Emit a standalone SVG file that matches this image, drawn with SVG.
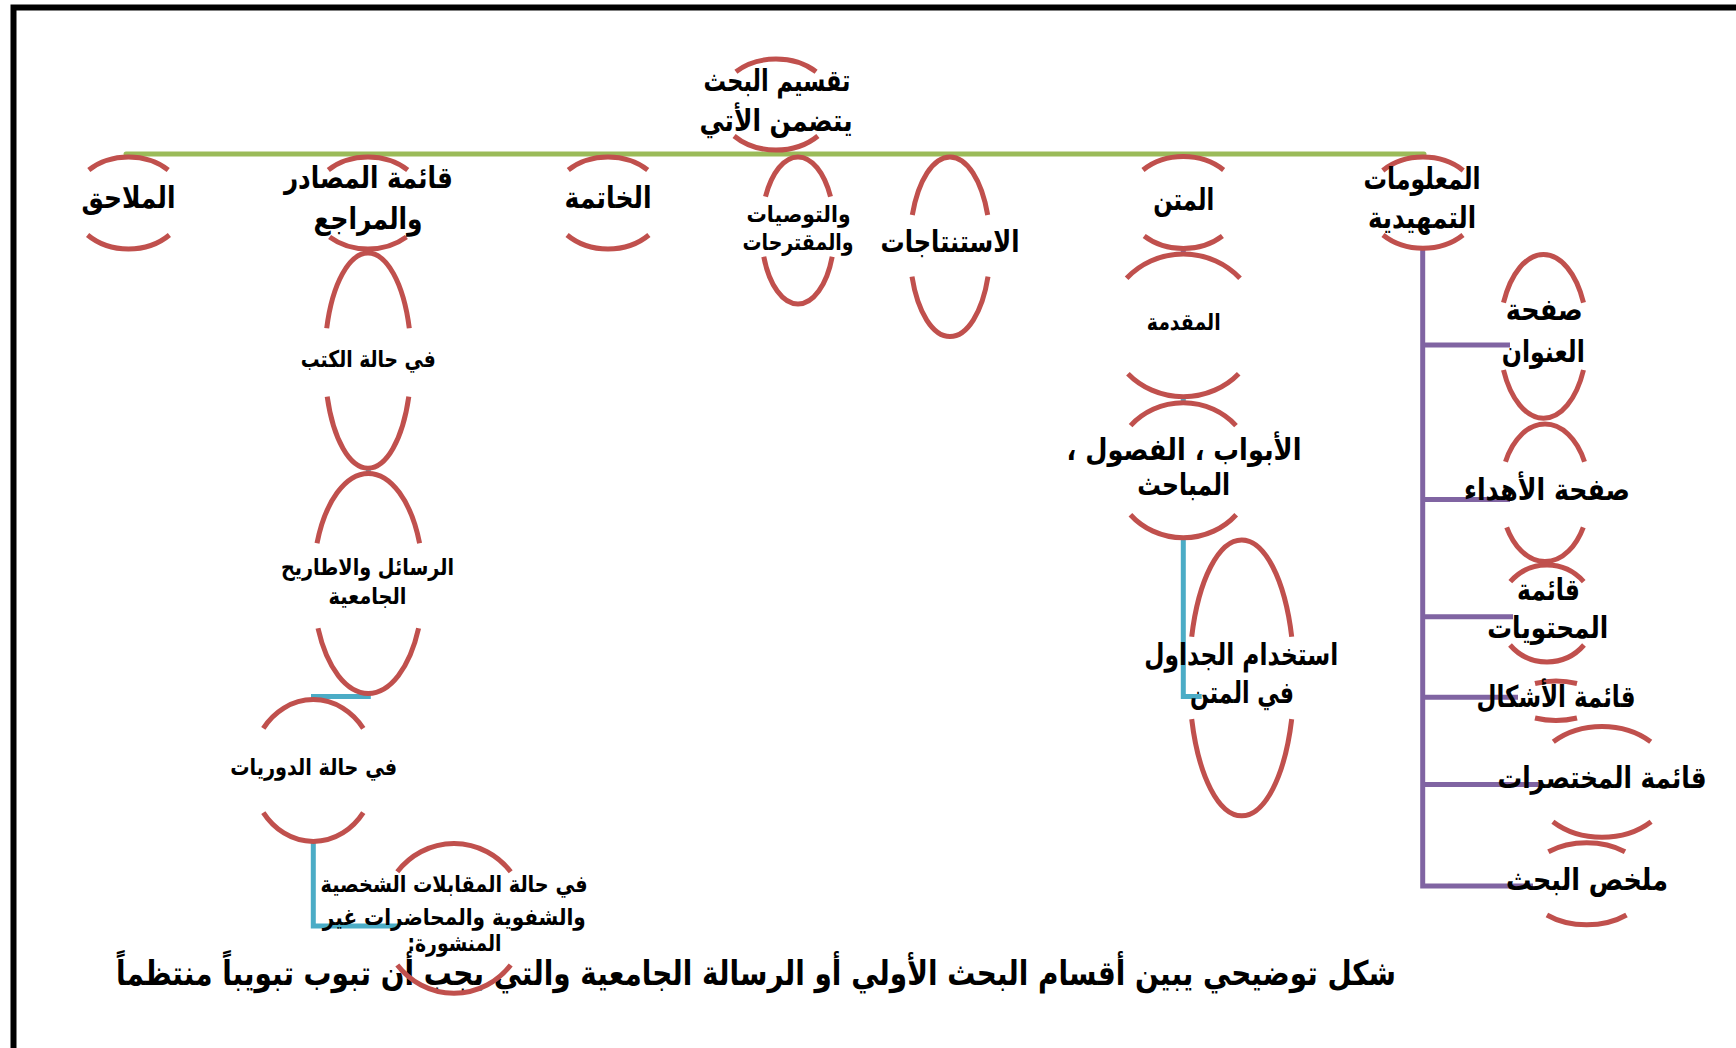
<svg xmlns="http://www.w3.org/2000/svg" width="1736" height="1048" viewBox="0 0 1736 1048">
<style>
.bg{fill:#ffffff}
.frame{fill:none;stroke:#000000;stroke-width:6}
.arc{fill:none;stroke:#C0504D;stroke-width:5}
.cg{fill:none;stroke:#9BBB59;stroke-width:5;stroke-linecap:round}
.cp{fill:none;stroke:#8064A2;stroke-width:5}
.cb{fill:none;stroke:#4BACC6;stroke-width:5}
text{font-family:"DejaVu Sans",sans-serif;font-weight:bold;fill:#000000;text-anchor:middle;direction:rtl}
.L{font-size:30px}
.S{font-size:23px}
.C{font-size:34px}
</style>
<rect class="bg" x="0" y="0" width="1736" height="1048"/>
<g id="frame">
<path class="frame" d="M13.5,1048 V7.5 H1736"/>
</g>
<g id="caption">
<text class="C" x="756" y="985" textLength="1280" lengthAdjust="spacingAndGlyphs">شكل توضيحي يبين أقسام البحث الأولي أو الرسالة الجامعية والتي يجب أن تبوب تبويباً منتظماً</text>
</g>
<g id="connectors">
<path class="cg" d="M126,154 H1424"/>
<path class="cp" d="M1422.7,249 V886 M1422.7,345 H1510 M1422.7,499.5 H1510 M1422.7,616.7 H1513 M1422.7,697.3 H1518 M1422.7,784.5 H1540 M1420.2,886 H1533"/>
<path class="cp" d="M368,248 V254 M1183.3,247 V255"/>
<path class="cb" d="M368.3,467 V474 M1183.3,396 V404"/>
<path class="cb" d="M368.3,692 V696.5 H311"/>
<path class="cb" d="M313.3,841 V926 H399"/>
<path class="cb" d="M1183.3,537 V696.4 H1201.7"/>
</g>
<g id="node-title">
<path class="arc" d="M735.9,71.7 A58,45.5 0 0 1 816.1,71.7 M734.1,136 A58,45.5 0 0 0 817.9,136"/>
<text class="L" x="777" y="90.5" textLength="147" lengthAdjust="spacingAndGlyphs">تقسيم البحث</text>
<text class="L" x="776" y="131" textLength="153" lengthAdjust="spacingAndGlyphs">يتضمن الأتي</text>
</g>
<g id="node-mulahaq">
<path class="arc" d="M88.8,170 A57,46 0 0 1 168.2,170 M87.6,235 A57,46 0 0 0 169.4,235"/>
<text class="L" x="128.5" y="208" textLength="94" lengthAdjust="spacingAndGlyphs">الملاحق</text>
</g>
<g id="node-masader">
<path class="arc" d="M328.3,170 A57,46 0 0 1 407.7,170 M329.6,237 A57,46 0 0 0 406.4,237"/>
<text class="L" x="368.4" y="188" textLength="169" lengthAdjust="spacingAndGlyphs">قائمة المصادر</text>
<text class="L" x="368" y="229" textLength="109" lengthAdjust="spacingAndGlyphs">والمراجع</text>
</g>
<g id="node-khatima">
<path class="arc" d="M568.3,170 A57,46 0 0 1 647.7,170 M567.1,235 A57,46 0 0 0 648.9,235"/>
<text class="L" x="608" y="208" textLength="87" lengthAdjust="spacingAndGlyphs">الخاتمة</text>
</g>
<g id="node-tawsiyat">
<path class="arc" d="M765.5,196.7 A36.6,73.5 0 0 1 830.5,196.7 M763.8,256.7 A36.6,73.5 0 0 0 832.2,256.7"/>
<text class="S" x="798.5" y="221.5" textLength="104" lengthAdjust="spacingAndGlyphs">والتوصيات</text>
<text class="S" x="798" y="250" textLength="111" lengthAdjust="spacingAndGlyphs">والمقترحات</text>
</g>
<g id="node-istintajat">
<path class="arc" d="M912.3,215 A40.3,89.8 0 0 1 987.7,215 M912,276.7 A40.3,89.8 0 0 0 988,276.7"/>
<text class="L" x="950" y="251.5" textLength="139" lengthAdjust="spacingAndGlyphs">الاستنتاجات</text>
</g>
<g id="node-matn">
<path class="arc" d="M1143,170 A57,46 0 0 1 1223.6,170 M1144.2,236 A57,46 0 0 0 1222.4,236"/>
<text class="L" x="1183.7" y="210" textLength="61" lengthAdjust="spacingAndGlyphs">المتن</text>
</g>
<g id="node-maalumat">
<path class="arc" d="M1382.8,170.5 A57,46 0 0 1 1463.2,170.5 M1383,235 A57,46 0 0 0 1463,235"/>
<text class="L" x="1422" y="189" textLength="117" lengthAdjust="spacingAndGlyphs">المعلومات</text>
<text class="L" x="1422" y="228" textLength="108" lengthAdjust="spacingAndGlyphs">التمهيدية</text>
</g>
<g id="node-kutub">
<path class="arc" d="M326.7,328.3 A43.3,107.5 0 0 1 409.3,328.3 M327.2,396.7 A43.3,107.5 0 0 0 408.8,396.7"/>
<text class="S" x="368.3" y="367" textLength="135" lengthAdjust="spacingAndGlyphs">في حالة الكتب</text>
</g>
<g id="node-rasail">
<path class="arc" d="M317,543.3 A55.1,110 0 0 1 419.6,543.3 M318,628.3 A55.1,110 0 0 0 418.6,628.3"/>
<text class="S" x="367.5" y="575" textLength="173" lengthAdjust="spacingAndGlyphs">الرسائل والاطاريح</text>
<text class="S" x="367.5" y="604" textLength="78" lengthAdjust="spacingAndGlyphs">الجامعية</text>
</g>
<g id="node-dawriyat">
<path class="arc" d="M263.3,728.3 A62.2,71 0 0 1 363.3,728.3 M263.3,812.7 A62.2,71 0 0 0 363.3,812.7"/>
<text class="S" x="313.7" y="775" textLength="167" lengthAdjust="spacingAndGlyphs">في حالة الدوريات</text>
</g>
<g id="node-muqabalat">
<path class="arc" d="M397.3,871.7 A72.5,75 0 0 1 510.7,871.7 M397.3,965 A72.5,75 0 0 0 510.7,965"/>
<text class="S" x="454" y="891.5" textLength="267" lengthAdjust="spacingAndGlyphs">في حالة المقابلات الشخصية</text>
<text class="S" x="454.3" y="925" textLength="263" lengthAdjust="spacingAndGlyphs">والشفوية والمحاضرات غير</text>
<text class="S" x="454.5" y="951" textLength="94" lengthAdjust="spacingAndGlyphs">المنشورة:</text>
</g>
<g id="node-muqaddima">
<path class="arc" d="M1126.6,278.3 A75.4,71.3 0 0 1 1240,278.3 M1127.9,373.7 A75.4,71.3 0 0 0 1238.7,373.7"/>
<text class="S" x="1183.7" y="330" textLength="74" lengthAdjust="spacingAndGlyphs">المقدمة</text>
</g>
<g id="node-abwab">
<path class="arc" d="M1130.6,425.6 A70.3,67.5 0 0 1 1236,425.6 M1130.4,514.7 A70.3,67.5 0 0 0 1236.2,514.7"/>
<text class="L" x="1184" y="459.5" textLength="235" lengthAdjust="spacingAndGlyphs">الأبواب  ،  الفصول ،</text>
<text class="L" x="1183.7" y="494.5" textLength="93" lengthAdjust="spacingAndGlyphs">المباحث</text>
</g>
<g id="node-jadawil">
<path class="arc" d="M1191.7,636.7 A52.4,138 0 0 1 1291.7,636.7 M1191.7,719.1 A52.4,138 0 0 0 1291.7,719.1"/>
<text class="L" x="1241.3" y="664.5" textLength="194" lengthAdjust="spacingAndGlyphs">استخدام الجداول</text>
<text class="L" x="1242" y="703" textLength="104" lengthAdjust="spacingAndGlyphs">في المتن</text>
</g>
<g id="node-unwan">
<path class="arc" d="M1503.5,302.7 A43.9,82 0 0 1 1583.5,302.7 M1503.5,370 A43.9,82 0 0 0 1583.5,370"/>
<text class="L" x="1544.3" y="320" textLength="77" lengthAdjust="spacingAndGlyphs">صفحة</text>
<text class="L" x="1543.3" y="361.5" textLength="83" lengthAdjust="spacingAndGlyphs">العنوان</text>
</g>
<g id="node-ihda">
<path class="arc" d="M1505.5,461.7 A44.3,68.8 0 0 1 1584.5,461.7 M1506.7,527.3 A44.3,68.8 0 0 0 1583.3,527.3"/>
<text class="L" x="1547" y="500" textLength="166" lengthAdjust="spacingAndGlyphs">صفحة الأهداء</text>
</g>
<g id="node-muhtawayat">
<path class="arc" d="M1510.3,581.7 A49.6,50.8 0 0 1 1583.7,581.7 M1510,645 A49.6,50.8 0 0 0 1584,645"/>
<text class="L" x="1548.5" y="600" textLength="63" lengthAdjust="spacingAndGlyphs">قائمة</text>
<text class="L" x="1547.8" y="638" textLength="121" lengthAdjust="spacingAndGlyphs">المحتويات</text>
</g>
<g id="node-ashkal">
<path class="arc" d="M1535,683.5 A45,20 0 0 1 1577,683.5 M1535,718 A45,20 0 0 0 1577,718"/>
<text class="L" x="1556" y="706.5" textLength="159" lengthAdjust="spacingAndGlyphs">قائمة الأشكال</text>
</g>
<g id="node-mukhtasarat">
<path class="arc" d="M1553.3,741.7 A70.6,55.3 0 0 1 1650.7,741.7 M1552.9,821.7 A70.6,55.3 0 0 0 1651.1,821.7"/>
<text class="L" x="1602" y="788" textLength="209" lengthAdjust="spacingAndGlyphs">قائمة المختصرات</text>
</g>
<g id="node-mulakhas">
<path class="arc" d="M1548.4,851.7 A61.3,41 0 0 1 1625,851.7 M1546.9,915 A61.3,41 0 0 0 1626.5,915"/>
<text class="L" x="1587" y="890" textLength="162" lengthAdjust="spacingAndGlyphs">ملخص البحث</text>
</g>
</svg>
